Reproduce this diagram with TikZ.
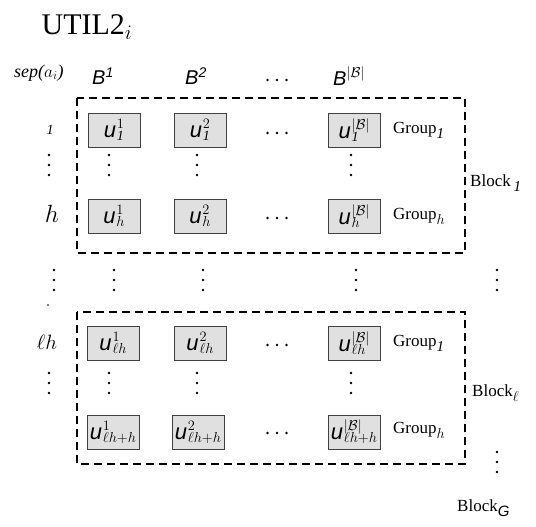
\documentclass[tikz,border=0pt]{standalone}
\usepackage{fontspec}
\setmainfont{Liberation Serif}
\setsansfont{Liberation Sans}

% scripts set at a fixed size, stacked and left aligned
\newcommand\scrfont{\fontsize{14}{14}\selectfont\rmfamily\upshape}
\newcommand\supsub[2]{{\scrfont\ooalign{\raisebox{9pt}{$#1$}\cr\raisebox{-3pt}{$#2$}\cr}}}
% one cell label: big sans italic u with small scripts
\newcommand\ucell[2]{{\fontsize{22}{22}\selectfont\sffamily\itshape u}\kern0.8pt\supsub{#1}{#2}}
\newcommand\bset{|\mathcal{B}|}
% low subscript after a serif word
\newcommand\lowsub[1]{\raisebox{-5pt}{\fontsize{15}{15}\selectfont #1}}

\tikzset{
  cell/.style={draw=black!75, fill=black!12, line width=0.9pt,
    minimum width=52pt, minimum height=34pt, inner sep=0pt},
  frame/.style={line width=2.4pt, dash pattern=on 8pt off 5pt},
  colhead/.style={anchor=west, inner sep=0pt, font=\fontsize{20}{23}\selectfont\sffamily\itshape},
  grouplab/.style={anchor=west, inner sep=0pt, font=\fontsize{17}{20}\selectfont},
  rowlab/.style={inner sep=0pt},
  dotmark/.style={fill=black},
}
\newcommand\hdotsat[2]{%
  \fill[dotmark] (#1-9.5,#2) circle (1.4pt) (#1,#2) circle (1.4pt) (#1+9.5,#2) circle (1.4pt);}
\newcommand\vdotsat[2]{%
  \fill[dotmark] (#1,#2-10) circle (1.4pt) (#1,#2) circle (1.4pt) (#1,#2+10) circle (1.4pt);}

\begin{document}
\begin{tikzpicture}[x=1pt,y=-1pt]
\useasboundingbox (0,0) rectangle (536,527);

% title and column heads
\node[inner sep=0pt, font=\fontsize{30}{32}\selectfont] (util) at (87,27) {UTIL2$_{i}$};
\node[anchor=west, inner sep=0pt, font=\fontsize{18}{21}\selectfont\itshape] (sep) at (14,73) {sep($a_i$)};
\node[colhead] (b1) at (92,76) {B\textsuperscript{1}};
\node[colhead] (b2) at (185,76) {B\textsuperscript{2}};
\node[colhead] (b3) at (333,76) {B\raisebox{8pt}{\fontsize{14}{14}\selectfont$\bset$}};
\hdotsat{277}{80}

% block frames
\draw[frame] (77,98) rectangle (465,253);
\draw[frame] (77,312) rectangle (465,464);

% block 1 cells
\node[cell] (c11) at (114,130) {\ucell{1}{\mathit{1}}};
\node[cell] (c12) at (200,130) {\ucell{2}{\mathit{1}}};
\node[cell] (c13) at (354,130) {\ucell{\bset}{\mathit{1}}};
\node[cell] (c21) at (114,216) {\ucell{1}{h}};
\node[cell] (c22) at (200,216) {\ucell{2}{h}};
\node[cell] (c23) at (354,216) {\ucell{\bset}{h}};

% block l cells
\node[cell] (c31) at (113,343) {\ucell{1}{\ell h}};
\node[cell] (c32) at (200,343) {\ucell{2}{\ell h}};
\node[cell] (c33) at (354,343) {\ucell{\bset}{\ell h}};
\node[cell] (c41) at (113,432) {\ucell{1}{\ell h{+}h}};
\node[cell] (c42) at (198,432) {\ucell{2}{\ell h{+}h}};
\node[cell] (c43) at (354,432) {\ucell{\bset}{\ell h{+}h}};

% row ellipses
\hdotsat{277}{133}
\hdotsat{277}{218}
\hdotsat{277}{345}
\hdotsat{277}{433}

% vertical dots inside blocks
\vdotsat{109}{165} \vdotsat{197}{165} \vdotsat{351}{165}
\vdotsat{109}{383} \vdotsat{197}{383} \vdotsat{351}{383}

% vertical dots between blocks
\vdotsat{54}{280} \vdotsat{114}{280} \vdotsat{203}{280} \vdotsat{356}{280} \vdotsat{497}{280}
\fill[dotmark] (48,305) circle (0.9pt);
\vdotsat{497}{462}

% row labels
\node[rowlab, font=\fontsize{14}{16}\selectfont\itshape] (r1) at (50,130) {1};
\vdotsat{49}{165}
\node[rowlab, font=\fontsize{24}{26}\selectfont] (rh) at (52,214) {$h$};
\node[rowlab, font=\fontsize{21}{24}\selectfont] (rlh) at (47,342) {$\ell h$};
\vdotsat{49}{383}

% group and block labels
\node[grouplab] (g1) at (393,130) {Group\lowsub{\itshape 1}};
\node[grouplab] (gh) at (393,216) {Group\lowsub{$h$}};
\node[grouplab] (g3) at (393,343) {Group\lowsub{\itshape 1}};
\node[grouplab] (g4) at (393,430) {Group\lowsub{$h$}};
\node[grouplab] (blk1) at (470,183) {Block\,\lowsub{\itshape 1}};
\node[grouplab] (blkl) at (472,393) {Block\lowsub{$\ell$}};
\node[grouplab] (blkg) at (457,508) {Block\lowsub{\sffamily\itshape G}};
\end{tikzpicture}
\end{document}
